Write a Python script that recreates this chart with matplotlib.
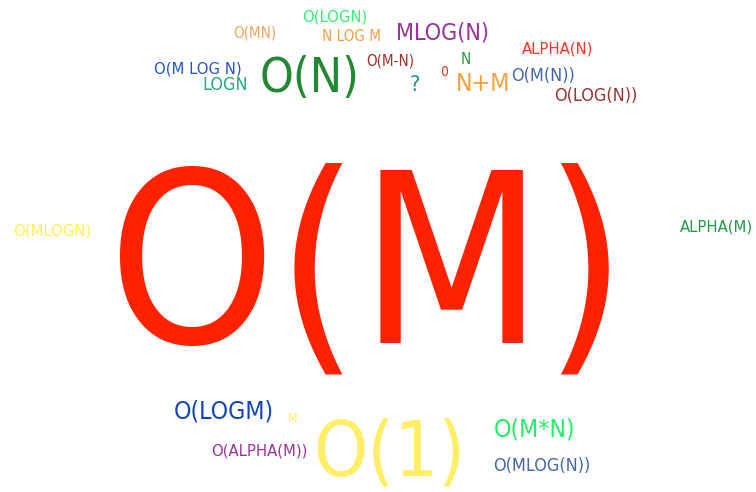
import matplotlib
matplotlib.use("Agg")
import matplotlib.pyplot as plt
from matplotlib import font_manager

# word cloud data: word, font size (pt), colour
words = ["O(M)", "O(1)", "O(N)", "MLOG(N)", "O(M*N)", "N+M", "O(LOGM)", "?",
         "O(MLOG(N))", "O(LOG(N))", "O(M(N))", "ALPHA(N)", "O(M-N)", "O(M LOG N)",
         "LOGN", "O(MN)", "O(LOGN)", "N LOG M", "O(MLOGN)", "ALPHA(M)",
         "O(ALPHA(M))", "N", "0", "M"]
sizes = [173, 56, 35, 17, 18, 18, 18, 16,
         13, 13, 13, 12, 11, 12,
         13, 11, 12, 11, 12, 12,
         12, 11, 10, 9]
colors = ["#ff2200", "#ffee66", "#228833", "#993399", "#22ee66", "#ffa040", "#1144bb", "#229988",
          "#4466aa", "#993333", "#4466aa", "#ff3322", "#993322", "#2255cc",
          "#22aa77", "#f4a460", "#33ee77", "#f0a040", "#ffee55", "#229944",
          "#993399", "#229944", "#ff3311", "#ffee55"]

# layout of the cloud (pixel centre x, baseline y)
layout_x = [368, 389, 310, 442, 535, 483, 224, 415,
            542, 596, 543, 558, 390, 198,
            225, 255, 335, 351, 52, 716,
            259, 466, 444, 293]
layout_y = [343, 475, 92, 40, 437, 91, 419, 91,
            471, 101, 81, 54, 66, 74,
            90, 37, 21, 41, 236, 231,
            456, 64, 76, 422]

# the original font is a bit narrower than DejaVu Sans, use condensed if there
names = {f.name for f in font_manager.fontManager.ttflist}
cond = [f for f in font_manager.fontManager.ttflist
        if f.name == "DejaVu Sans" and f.stretch in ("condensed", 600, "semi-condensed")]
if "DejaVu Sans Condensed" in names:
    family, stretch = "DejaVu Sans Condensed", "normal"
elif cond:
    family, stretch = "DejaVu Sans", "condensed"
else:
    family, stretch = "DejaVu Sans", "normal"

fig = plt.figure(figsize=(7.56, 4.92), dpi=100)
ax = fig.add_axes([0, 0, 1, 1])
ax.set_xlim(0, 756)
ax.set_ylim(492, 0)
ax.axis("off")

for w, s, c, x, y in zip(words, sizes, colors, layout_x, layout_y):
    ax.text(x, y, w, fontsize=s * 0.988, color=c, ha="center", va="baseline",
            family=family, fontstretch=stretch)

fig.savefig("out.png", dpi=100, facecolor="white")
